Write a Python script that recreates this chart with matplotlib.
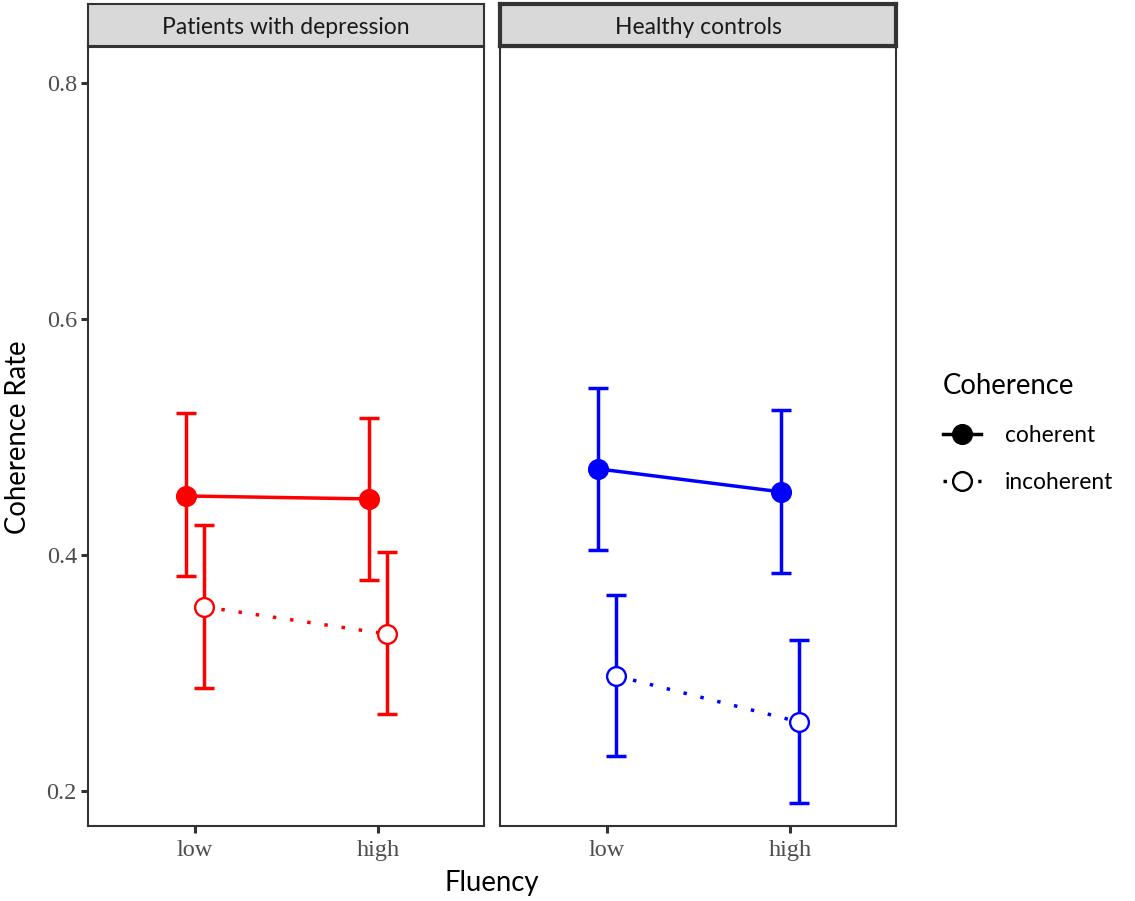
import matplotlib
matplotlib.use("Agg")
import matplotlib.pyplot as plt
from matplotlib.lines import Line2D
import numpy as np

# ---- data ----
fluency = ["low", "high"]
panels = ["Patients with depression", "Healthy controls"]
coherence_levels = ["coherent", "incoherent"]
panel_colors = ["#FF0000", "#0000FF"]

pat_coh_mean = [0.450, 0.4475]
pat_coh_min = [0.382, 0.379]
pat_coh_max = [0.520, 0.516]
pat_inc_mean = [0.356, 0.333]
pat_inc_min = [0.287, 0.265]
pat_inc_max = [0.425, 0.4025]

hc_coh_mean = [0.473, 0.4535]
hc_coh_min = [0.404, 0.385]
hc_coh_max = [0.5415, 0.523]
hc_inc_mean = [0.2975, 0.2585]
hc_inc_min = [0.2297, 0.190]
hc_inc_max = [0.366, 0.328]

yticks = [0.2, 0.4, 0.6, 0.8]
ytick_labels = ["0.2", "0.4", "0.6", "0.8"]

data = {
    panels[0]: {
        "coherent": (pat_coh_mean, pat_coh_min, pat_coh_max),
        "incoherent": (pat_inc_mean, pat_inc_min, pat_inc_max),
    },
    panels[1]: {
        "coherent": (hc_coh_mean, hc_coh_min, hc_coh_max),
        "incoherent": (hc_inc_mean, hc_inc_min, hc_inc_max),
    },
}

SANS = ["Lato", "DejaVu Sans"]
SERIF = ["Liberation Serif", "DejaVu Serif"]

W, H = 1135, 901
fig = plt.figure(figsize=(W / 100, H / 100), dpi=100)

def fx(px):
    return px / W

def fy(py):
    return 1 - py / H

panel_px = [(88, 484), (500, 896)]
top_px, bot_px = 47, 826
strip_top = 4

dodge = 0.05
x_base = np.arange(1, len(fluency) + 1)
lw = 2.5
ms = 13.5
dotted = (0, (1, 4.0))

for i, name in enumerate(panels):
    l, r = panel_px[i]
    ax = fig.add_axes([fx(l), fy(bot_px), fx(r - l), (bot_px - top_px) / H])
    col = panel_colors[i]
    for lev in coherence_levels:
        mean, ymin, ymax = data[name][lev]
        mean = np.array(mean); ymin = np.array(ymin); ymax = np.array(ymax)
        off = -dodge if lev == "coherent" else dodge
        xs = x_base + off
        ax.errorbar(xs, mean, yerr=[mean - ymin, ymax - mean], fmt="none",
                    ecolor=col, elinewidth=lw, capsize=7.2, capthick=lw, zorder=2)
        ax.plot(xs, mean, color=col, lw=lw,
                linestyle="-" if lev == "coherent" else dotted, zorder=3,
                solid_capstyle="butt", dash_capstyle="butt")
        ax.plot(xs, mean, linestyle="none", marker="o", markersize=ms,
                markerfacecolor=col if lev == "coherent" else "white",
                markeredgecolor=col, markeredgewidth=1.7, zorder=4)
    ax.set_xlim(0.415, 2.58)
    ax.set_ylim(0.1703, 0.8305)
    ax.set_xticks(x_base)
    ax.set_xticklabels(fluency, fontfamily=SERIF, fontsize=17.5, color="#4D4D4D")
    ax.set_yticks(yticks)
    ax.tick_params(axis="both", direction="out", length=5, width=2.2, color="#333333")
    ax.tick_params(axis="x", pad=5)
    ax.tick_params(axis="y", pad=3)
    if i == 0:
        ax.set_yticklabels(ytick_labels, fontfamily=SERIF, fontsize=17.5, color="#4D4D4D")
    else:
        ax.set_yticks([])
    for s in ax.spines.values():
        s.set_color("#333333")
        s.set_linewidth(1.5)
    # strip
    sax = fig.add_axes([fx(l), fy(top_px - 1), fx(r - l), (top_px - 1 - strip_top) / H])
    sax.set_xticks([]); sax.set_yticks([])
    sax.set_facecolor("#D9D9D9")
    for s in sax.spines.values():
        s.set_color("#333333")
        s.set_linewidth(1.5 if i == 0 else 3.0)
    sax.text(0.5, 0.45, name, ha="center", va="center", fontfamily=SANS,
             fontsize=16.5, color="#1A1A1A", transform=sax.transAxes)

fig.text(fx(18), fy(437), "Coherence Rate", rotation=90, ha="center", va="center",
         fontfamily=SANS, fontsize=19.8, color="black")
fig.text(fx(492), fy(883), "Fluency", ha="center", va="center",
         fontfamily=SANS, fontsize=19.8, color="black")

handles = [
    Line2D([0], [0], color="black", lw=lw, linestyle="-", marker="o", markersize=ms,
           markerfacecolor="black", markeredgecolor="black", markeredgewidth=1.7),
    Line2D([0], [0], color="black", lw=lw, linestyle=(0, (1, 4.0)), marker="o", markersize=ms,
           markerfacecolor="white", markeredgecolor="black", markeredgewidth=1.7),
]
leg = fig.legend(handles, coherence_levels, title="Coherence", loc="upper left",
                 bbox_to_anchor=(fx(922), fy(352)), frameon=False,
                 prop={"family": SANS, "size": 16.4}, handlelength=1.7,
                 handletextpad=1.05, labelspacing=1.15, alignment="left")
leg.get_title().set_fontfamily(SANS)
leg.get_title().set_fontsize(19.8)
leg._legend_handle_box.set_offset  # keep default packing

fig.savefig("out.png", dpi=100)
